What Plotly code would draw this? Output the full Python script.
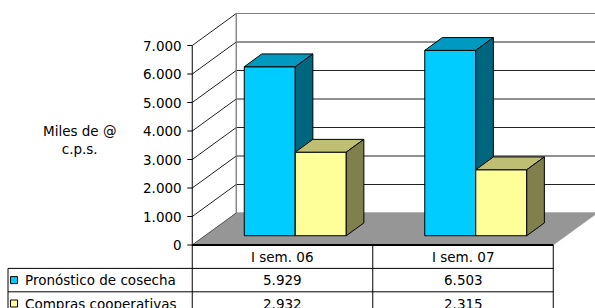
import plotly.graph_objects as go

# ---------------- data ----------------
CATEGORIES = ["I sem. 06", "I sem. 07"]
SERIES_NAMES = ["Pronóstico de cosecha", "Compras cooperativas"]
PRONOSTICO = [5929, 6503]
COMPRAS = [2932, 2315]
SERIES_VALUES = [PRONOSTICO, COMPRAS]
TICK_VALUES = [0, 1000, 2000, 3000, 4000, 5000, 6000, 7000]
TICK_LABELS = ["0", "1.000", "2.000", "3.000", "4.000", "5.000", "6.000", "7.000"]
AXIS_TITLE = "Miles de @<br>c.p.s."

# ---------------- styles ----------------
FRONT = ["#00CCFF", "#FFFF99"]
TOP = ["#0099BF", "#BFBF73"]
SIDE = ["#006680", "#80804C"]
FLOOR = "#969696"
FONT = "Verdana, DejaVu Sans, sans-serif"
FS = 13.5

# ---------------- geometry ----------------
W, H = 595, 308
PX_CAT = 180.5          # px per category
PX_UNIT = 0.0285        # px per value unit
CAT0_PX = 282.5
ZERO_PX = 245
X_RANGE = [-CAT0_PX / PX_CAT, (W - CAT0_PX) / PX_CAT]
Y_RANGE = [-(H - ZERO_PX) / PX_UNIT, ZERO_PX / PX_UNIT]
DX = 44 / PX_CAT
DY = 32 / PX_UNIT
D0, D1 = 0.29, 0.69
BW = 51 / PX_CAT
RH = 23.4 / PX_UNIT
XL = -0.5
XR = len(CATEGORIES) - 0.5
VMAX = TICK_VALUES[-1]
TABLE_L = (8 - CAT0_PX) / PX_CAT


def P(x, v, d):
    return x + d * DX, v + d * DY


fig = go.Figure()


def poly(pts, fill, line="black", lw=1):
    xs = [p[0] for p in pts] + [pts[0][0]]
    ys = [p[1] for p in pts] + [pts[0][1]]
    fig.add_trace(go.Scatter(x=xs, y=ys, mode="lines", fill="toself",
                             fillcolor=fill, line=dict(color=line, width=lw),
                             hoverinfo="skip"))


def seg(a, b, color="black", lw=1):
    fig.add_trace(go.Scatter(x=[a[0], b[0]], y=[a[1], b[1]], mode="lines",
                             line=dict(color=color, width=lw), hoverinfo="skip"))


# back wall
poly([P(XL, 0, 1), P(XL, VMAX, 1), P(XR, VMAX, 1), P(XR, 0, 1)], "white", "#808080")
# floor
poly([P(XL, 0, 0), P(XL, 0, 1), P(XR, 0, 1), P(XR, 0, 0)], FLOOR, FLOOR, 0.5)
# gridlines on back wall and side wall
for t in TICK_VALUES[1:-1]:
    seg(P(XL, t, 1), P(XR, t, 1), "#222222")
for t in TICK_VALUES:
    seg(P(XL, t, 0), P(XL, t, 1), "#222222" if t else "#555555")
seg(P(XL, VMAX, 1), P(XR, VMAX, 1), "#808080")
seg(P(XL, 0, 1), P(XL, VMAX, 1), "#808080")

# bars
nS = len(SERIES_VALUES)
for i in range(len(CATEGORIES)):
    for s in range(nS):
        v = SERIES_VALUES[s][i]
        x0 = i - nS * BW / 2 + s * BW
        x1 = x0 + BW
        poly([P(x0, 0, D0), P(x0, v, D0), P(x1, v, D0), P(x1, 0, D0)], FRONT[s])
        poly([P(x0, v, D0), P(x1, v, D0), P(x1, v, D1), P(x0, v, D1)], TOP[s])
        poly([P(x1, 0, D0), P(x1, v, D0), P(x1, v, D1), P(x1, 0, D1)], SIDE[s])

# front value axis
seg((XL, VMAX), (XL, -3 * RH))
for t in TICK_VALUES:
    seg((XL - 5 / PX_CAT, t), (XL, t))

# data table
seg((XL, 0), (XR, 0), "black", 2)
for r in range(1, nS + 2):
    seg((TABLE_L, -r * RH), (XR, -r * RH))
seg((TABLE_L, -RH), (TABLE_L, -3 * RH))
for i in range(len(CATEGORIES)):
    seg((i + 0.5, 0), (i + 0.5, -3 * RH))

# legend keys in table
fig.add_trace(go.Scatter(
    x=[(14 - CAT0_PX) / PX_CAT] * nS,
    y=[-(s + 1.5) * RH for s in range(nS)],
    mode="markers",
    marker=dict(symbol="square", size=7, color=FRONT,
                line=dict(color="black", width=1)),
    hoverinfo="skip"))

ann = []
for t, lab in zip(TICK_VALUES, TICK_LABELS):
    ann.append(dict(x=XL - 8 / PX_CAT, y=t, text=lab, xanchor="right",
                    yanchor="middle", showarrow=False))
ann.append(dict(x=(79 - CAT0_PX) / PX_CAT, y=(ZERO_PX - 140) / PX_UNIT,
                text=AXIS_TITLE, xanchor="center", yanchor="middle",
                showarrow=False))
for i, c in enumerate(CATEGORIES):
    ann.append(dict(x=i, y=-RH / 2, text=c, xanchor="center",
                    yanchor="middle", showarrow=False))
    for s in range(nS):
        val = f"{SERIES_VALUES[s][i]:,}".replace(",", ".")
        ann.append(dict(x=i, y=-(s + 1.5) * RH, text=val, xanchor="center",
                        yanchor="middle", showarrow=False))
for s, name in enumerate(SERIES_NAMES):
    ann.append(dict(x=(23 - CAT0_PX) / PX_CAT, y=-(s + 1.5) * RH, text=name,
                    xanchor="left", yanchor="middle", showarrow=False))

fig.update_layout(
    width=W, height=H,
    margin=dict(l=0, r=0, t=0, b=0),
    paper_bgcolor="white", plot_bgcolor="white",
    showlegend=False,
    font=dict(family=FONT, size=FS, color="black"),
    xaxis=dict(range=X_RANGE, visible=False, fixedrange=True),
    yaxis=dict(range=Y_RANGE, visible=False, fixedrange=True),
    annotations=ann,
)

fig.write_html("out.html", config={"displayModeBar": False},
               post_script="document.body.style.margin='0';document.body.style.overflow='hidden';")
